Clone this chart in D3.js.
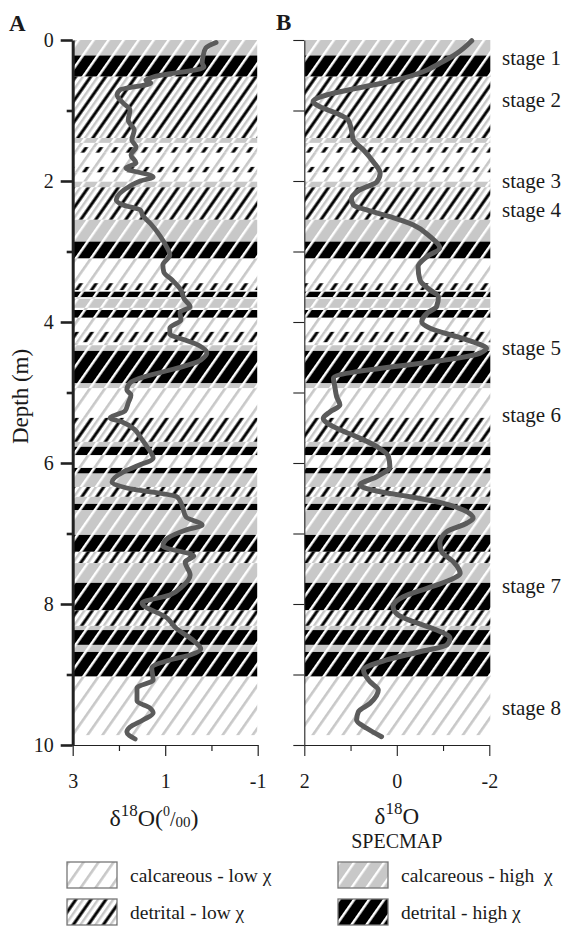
<!DOCTYPE html>
<html>
<head>
<meta charset="utf-8">
<script src="https://cdn.jsdelivr.net/npm/d3@7"></script>
<style>
  body { margin: 0; background: #fff; }
  svg { display: block; }
  text { font-family: "Liberation Serif", "Times New Roman", serif; fill: #1a1a1a; white-space: pre; }
</style>
</head>
<body>
<svg id="chart" width="567" height="926"></svg>
<script>
// Lithological units down the core: [top (m), bottom (m), unit type]
// CL = calcareous - low χ, CH = calcareous - high χ,
// DL = detrital - low χ,   DH = detrital - high χ
const layers = [
  [0.00, 0.22, "CH"], [0.22, 0.52, "DH"], [0.52, 1.39, "DL"], [1.39, 1.46, "CH"],
  [1.46, 1.52, "CL"], [1.52, 1.60, "DL"], [1.60, 1.80, "CL"], [1.80, 1.88, "DL"],
  [1.88, 2.01, "CL"], [2.01, 2.09, "CH"], [2.09, 2.55, "DL"], [2.55, 2.86, "CH"],
  [2.86, 3.10, "DH"], [3.10, 3.45, "CL"], [3.45, 3.55, "DL"], [3.55, 3.57, "CL"],
  [3.57, 3.65, "DH"], [3.65, 3.67, "CL"], [3.67, 3.80, "CH"], [3.80, 3.83, "CL"],
  [3.83, 3.94, "DH"], [3.94, 4.14, "CL"], [4.14, 4.29, "DL"], [4.29, 4.33, "CL"],
  [4.33, 4.41, "CH"], [4.41, 4.87, "DH"], [4.87, 4.94, "CH"], [4.94, 5.36, "CL"],
  [5.36, 5.70, "DL"], [5.70, 5.77, "CH"], [5.77, 5.89, "DH"], [5.89, 6.07, "CL"],
  [6.07, 6.15, "DH"], [6.15, 6.34, "CH"], [6.34, 6.48, "DL"], [6.48, 6.58, "CH"],
  [6.58, 6.67, "DH"], [6.67, 7.02, "CH"], [7.02, 7.26, "DH"], [7.26, 7.42, "DL"],
  [7.42, 7.70, "CH"], [7.70, 8.09, "DH"], [8.09, 8.31, "DL"], [8.31, 8.37, "CH"],
  [8.37, 8.58, "DH"], [8.58, 8.68, "CH"], [8.68, 9.03, "DH"], [9.03, 9.86, "CL"]
];

// Core δ18O (‰): [depth (m), value]
const coreO18 = [
  [0.035, -0.10], [0.113, 0.12], [0.227, 0.18], [0.326, 0.20], [0.383, 0.16],
  [0.525, 1.26], [0.567, 1.42], [0.610, 1.31], [0.709, 1.98], [0.780, 2.04],
  [0.894, 1.91], [0.993, 1.76], [1.135, 1.80], [1.277, 1.67], [1.418, 1.72],
  [1.518, 1.63], [1.631, 1.74], [1.745, 1.63], [1.816, 1.85], [1.943, 1.26],
  [2.000, 1.54], [2.071, 1.76], [2.270, 2.06], [2.340, 1.91], [2.411, 1.54],
  [2.496, 1.48], [2.610, 1.31], [2.780, 1.11], [2.922, 0.98], [3.050, 0.90],
  [3.191, 1.05], [3.291, 1.03], [3.404, 0.85], [3.546, 0.66], [3.674, 0.59],
  [3.787, 0.46], [3.858, 0.68], [3.972, 0.66], [4.085, 0.90], [4.170, 0.90],
  [4.255, 0.57], [4.340, 0.25], [4.440, 0.10], [4.539, 0.23], [4.865, 1.76],
  [4.965, 1.83], [5.035, 1.74], [5.149, 1.80], [5.262, 1.87], [5.362, 2.19],
  [5.418, 1.93], [5.518, 1.67], [5.631, 1.54], [5.773, 1.39], [5.929, 1.26],
  [6.043, 1.61], [6.128, 1.91], [6.270, 2.15], [6.355, 1.83], [6.482, 0.74],
  [6.596, 0.64], [6.766, 0.55], [6.879, 0.20], [6.950, 0.55], [7.064, 0.94],
  [7.177, 1.05], [7.319, 0.38], [7.404, 0.57], [7.589, 0.46], [7.745, 0.62],
  [7.872, 0.90], [7.986, 1.50], [8.199, 0.96], [8.340, 0.77], [8.525, 0.38],
  [8.638, 0.23], [8.723, 0.46], [8.794, 0.90], [8.908, 1.29], [9.078, 1.26],
  [9.191, 1.61], [9.376, 1.61], [9.475, 1.33], [9.546, 1.26], [9.645, 1.48],
  [9.745, 1.76], [9.816, 1.83], [9.915, 1.65]
];

// SPECMAP stack δ18O on the core depth scale: [depth (m), value]
const specmapO18 = [
  [0.010, -1.62], [0.189, -1.30], [0.330, -0.93], [0.450, -0.57], [0.567, 0.00],
  [0.685, 0.87], [0.780, 1.52], [0.875, 1.81], [0.946, 1.66], [1.040, 1.30],
  [1.135, 1.05], [1.277, 0.98], [1.418, 0.94], [1.560, 0.72], [1.726, 0.51],
  [1.891, 0.36], [2.010, 0.43], [2.128, 0.80], [2.245, 0.98], [2.340, 0.94],
  [2.411, 0.65], [2.506, 0.15], [2.624, -0.36], [2.790, -0.72], [2.950, -0.93],
  [3.074, -0.65], [3.216, -0.46], [3.404, -0.50], [3.546, -0.72], [3.641, -0.90],
  [3.783, -0.86], [3.877, -0.65], [3.996, -0.54], [4.089, -0.72], [4.209, -1.30],
  [4.302, -1.73], [4.373, -1.94], [4.444, -1.80], [4.799, 1.37], [4.918, 1.34],
  [5.060, 1.30], [5.177, 1.23], [5.272, 1.44], [5.366, 1.59], [5.508, 1.30],
  [5.627, 0.87], [5.769, 0.43], [5.911, 0.18], [6.053, 0.15], [6.194, 0.43],
  [6.312, 0.80], [6.407, 0.36], [6.478, -0.29], [6.572, -1.01], [6.667, -1.44],
  [6.784, -1.65], [6.855, -1.51], [6.974, -1.08], [7.139, -0.93], [7.258, -0.97],
  [7.400, -1.22], [7.565, -1.37], [7.660, -1.15], [7.777, -0.65], [7.896, -0.14],
  [8.038, 0.08], [8.156, -0.03], [8.251, -0.36], [8.369, -0.86], [8.486, -1.15],
  [8.582, -1.08], [8.677, -0.50], [8.794, 0.22], [8.936, 0.72], [9.102, 0.58],
  [9.220, 0.40], [9.409, 0.58], [9.528, 0.83], [9.645, 0.87], [9.763, 0.65],
  [9.882, 0.33]
];

// Marine isotope stages: [label, depth (m)]
const stages = [
  ["stage 1", 0.25], ["stage 2", 0.84], ["stage 3", 2.0], ["stage 4", 2.41],
  ["stage 5", 4.36], ["stage 6", 5.32], ["stage 7", 7.74], ["stage 8", 9.47]
];

const depthMajor = [0, 2, 4, 6, 8, 10];
const depthMinor = [1, 3, 5, 7, 9];
const depthAll = [0, 1, 2, 3, 4, 5, 6, 7, 8, 9, 10];
const coreMajor = [3, 1, -1];
const coreMinor = [2, 0];
const specMajor = [2, 0, -2];
const specMinor = [1, -1];

const legendItems = [
  ["CL", "calcareous - low χ"], ["DL", "detrital - low χ"],
  ["CH", "calcareous - high  χ"], ["DH", "detrital - high χ"]
];

// ---------------------------------------------------------------
const svg = d3.select("#chart");
const GRAY = "#c8c8c8";

const y = d3.scaleLinear().domain([0, 10]).range([40, 745]);
const xA = d3.scaleLinear().domain([3, -1]).range([72.7, 257.7]);
const xB = d3.scaleLinear().domain([2, -2]).range([304.3, 489.3]);

// Hatch fills: stripes rotated to lean "/" at about 55°
const defs = svg.append("defs");
const P = 12.3;
const fills = {
  CL: { bg: "#fff", stripes: [[0, 2.6, GRAY]] },
  CH: { bg: GRAY, stripes: [[0, 2.4, "#fff"]] },
  DL: { bg: "#fff", stripes: [[0, 2.4, GRAY], [6.1, 3.0, "#000"]] },
  DH: { bg: "#000", stripes: [[0, 2.5, "#fff"]] }
};
Object.entries(fills).forEach(([key, f]) => {
  const p = defs.append("pattern")
    .attr("id", "fill-" + key)
    .attr("patternUnits", "userSpaceOnUse")
    .attr("width", P).attr("height", P)
    .attr("patternTransform", "rotate(35)");
  p.append("rect").attr("width", P).attr("height", P).attr("fill", f.bg);
  f.stripes.forEach(([x0, w, c]) => {
    p.append("rect").attr("x", x0).attr("y", 0).attr("width", w).attr("height", P).attr("fill", c);
  });
});

function drawColumn(x0, x1) {
  svg.append("g").selectAll("rect")
    .data(layers)
    .join("rect")
    .attr("x", x0)
    .attr("width", x1 - x0)
    .attr("y", d => y(d[0]))
    .attr("height", d => y(d[1]) - y(d[0]))
    .attr("fill", d => `url(#fill-${d[2]})`);
}
drawColumn(xA(3) + 1, xA(-1) - 0.5);
drawColumn(xB(2) + 0.5, xB(-2) + 1);

// Isotope curves
function drawCurve(data, xs, width) {
  svg.append("path")
    .datum(data)
    .attr("fill", "none")
    .attr("stroke", "#5b5b5b")
    .attr("stroke-width", width)
    .attr("stroke-linejoin", "round")
    .attr("stroke-linecap", "round")
    .attr("d", d3.line().x(d => xs(d[1])).y(d => y(d[0])).curve(d3.curveMonotoneY));
}
drawCurve(coreO18, xA, 4.8);
drawCurve(specmapO18, xB, 5);

// Axes
const fmt = d => String(d);
function styleAxis(g, domainWidth, tickWidth, fontSize) {
  g.selectAll(".domain").attr("stroke", "#222").attr("stroke-width", domainWidth);
  g.selectAll(".tick line").attr("stroke", "#222").attr("stroke-width", tickWidth);
  g.selectAll(".tick text").attr("font-size", fontSize).attr("fill", "#1a1a1a")
    .attr("font-family", "Liberation Serif, Times New Roman, serif");
}

// Panel A depth axis (heavy)
const gAx = svg.append("g").attr("transform", `translate(${xA(3)},0)`);
gAx.call(d3.axisLeft(y).tickValues(depthMajor).tickSize(12).tickPadding(7).tickSizeOuter(0).tickFormat(fmt));
styleAxis(gAx, 3, 2.6, 20);
const gAxm = svg.append("g").attr("transform", `translate(${xA(3)},0)`);
gAxm.call(d3.axisLeft(y).tickValues(depthMinor).tickSize(6).tickSizeOuter(0).tickFormat(""));
styleAxis(gAxm, 0, 2.6, 20);
gAxm.select(".domain").remove();

// Panel A value axis
const gAb = svg.append("g").attr("transform", `translate(0,${y(10)})`);
gAb.call(d3.axisBottom(xA).tickValues(coreMajor).tickSize(11).tickPadding(18).tickSizeOuter(0).tickFormat(fmt));
styleAxis(gAb, 1.2, 1.2, 20);
const gAbm = svg.append("g").attr("transform", `translate(0,${y(10)})`);
gAbm.call(d3.axisBottom(xA).tickValues(coreMinor).tickSize(6).tickSizeOuter(0).tickFormat(""));
styleAxis(gAbm, 0, 1.2, 20);
gAbm.select(".domain").remove();

// Panel B depth axis (light, unlabeled)
const gBx = svg.append("g").attr("transform", `translate(${xB(2)},0)`);
gBx.call(d3.axisLeft(y).tickValues(depthAll).tickSize(11).tickSizeOuter(0).tickFormat(""));
styleAxis(gBx, 1.1, 1.1, 20);

// Panel B value axis
const gBb = svg.append("g").attr("transform", `translate(0,${y(10)})`);
gBb.call(d3.axisBottom(xB).tickValues(specMajor).tickSize(11).tickPadding(18).tickSizeOuter(0).tickFormat(fmt));
styleAxis(gBb, 1.1, 1.1, 20);
const gBbm = svg.append("g").attr("transform", `translate(0,${y(10)})`);
gBbm.call(d3.axisBottom(xB).tickValues(specMinor).tickSize(6).tickSizeOuter(0).tickFormat(""));
styleAxis(gBbm, 0, 1.1, 20);
gBbm.select(".domain").remove();

// Panel letters
svg.append("text").attr("x", 9).attr("y", 31).attr("font-size", 23).attr("font-weight", "bold").text("A");
svg.append("text").attr("x", 276).attr("y", 30).attr("font-size", 23).attr("font-weight", "bold").text("B");

// Depth title
svg.append("text")
  .attr("transform", `translate(28,${(y(0) + y(10)) / 2 + 4}) rotate(-90)`)
  .attr("text-anchor", "middle").attr("font-size", 23)
  .text("Depth (m)");

// Stage labels
svg.append("g").selectAll("text")
  .data(stages)
  .join("text")
  .attr("x", 502)
  .attr("y", d => y(d[1]))
  .attr("dy", "0.35em")
  .attr("font-size", 21)
  .text(d => d[0]);

// Axis titles
const tA = svg.append("text").attr("x", 154).attr("y", 826)
  .attr("text-anchor", "middle").attr("font-size", 24);
tA.append("tspan").text("δ");
tA.append("tspan").attr("dy", -10).attr("font-size", 17).text("18");
tA.append("tspan").attr("dy", 10).text("O(");
tA.append("tspan").attr("dy", -10).attr("font-size", 14).text("0");
tA.append("tspan").attr("dy", 10).attr("font-size", 20).text("/");
tA.append("tspan").attr("dy", 1).attr("font-size", 15).text("00");
tA.append("tspan").attr("dy", -1).text(")");

const tB = svg.append("text").attr("x", (xB(2) + xB(-2)) / 2).attr("y", 824)
  .attr("text-anchor", "middle").attr("font-size", 23);
tB.append("tspan").text("δ");
tB.append("tspan").attr("dy", -10).attr("font-size", 17).text("18");
tB.append("tspan").attr("dy", 10).text("O");
svg.append("text").attr("x", (xB(2) + xB(-2)) / 2).attr("y", 848)
  .attr("text-anchor", "middle").attr("font-size", 20).text("SPECMAP");

// Legend
const lg = svg.append("g").selectAll("g")
  .data(legendItems)
  .join("g")
  .attr("transform", (d, i) => `translate(${i < 2 ? 67 : 338},${i % 2 === 0 ? 862 : 899})`);
lg.append("rect")
  .attr("width", 50).attr("height", 26)
  .attr("fill", d => `url(#fill-${d[0]})`)
  .attr("stroke", "#777").attr("stroke-width", 1.3);
lg.append("text")
  .attr("x", 63).attr("y", 20)
  .attr("font-size", 19.5)
  .text(d => d[1]);
</script>
</body>
</html>
